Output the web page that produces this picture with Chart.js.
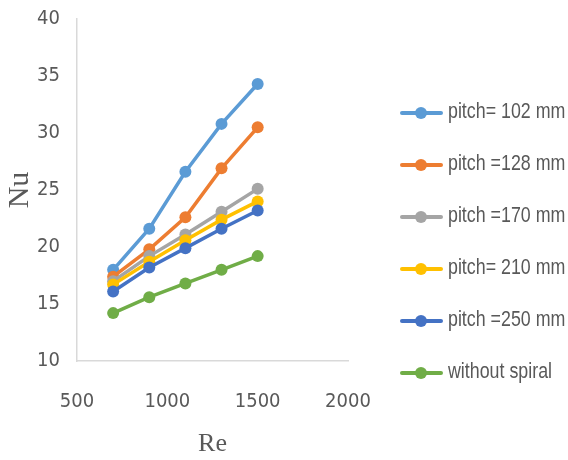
<!DOCTYPE html>
<html>
<head>
<meta charset="utf-8">
<script src="https://cdn.jsdelivr.net/npm/chart.js@4.4.0/dist/chart.umd.min.js"></script>
<style>
  html, body { margin: 0; padding: 0; background: #fff; }
  #wrap { position: relative; width: 568px; height: 460px; }
  #legend { position: absolute; left: 400px; top: 0; }
  .item { position: absolute; left: 0; height: 20px; width: 170px; }
  .item .ln { position: absolute; left: 0; top: 8px; width: 43px; height: 3.5px; border-radius: 2px; }
  .item .dot { position: absolute; left: 15px; top: 4px; width: 12px; height: 12px; border-radius: 50%; }
  .item .txt { position: absolute; left: 48px; top: -5px; font: 22px 'Liberation Sans', Arial, sans-serif; color: #595959; white-space: nowrap; transform: scaleX(0.81); transform-origin: 0 50%; }
</style>
</head>
<body>
<div id="wrap">
  <canvas id="chart" width="568" height="460"></canvas>
  <div id="legend"></div>
</div>
<script>
// --- Data ---
const reynolds = [700, 900, 1100, 1300, 1500];
const pitch102 = [18.0, 21.6, 26.6, 30.8, 34.3];
const pitch128 = [17.4, 19.8, 22.6, 26.9, 30.5];
const pitch170 = [17.0, 19.2, 21.1, 23.1, 25.1];
const pitch210 = [16.7, 18.7, 20.6, 22.4, 24.0];
const pitch250 = [16.1, 18.2, 19.9, 21.6, 23.2];
const withoutSpiral = [14.2, 15.6, 16.8, 18.0, 19.2];

const seriesNames = ['pitch= 102 mm', 'pitch =128 mm', 'pitch =170 mm', 'pitch= 210 mm', 'pitch =250 mm', 'without spiral'];
const seriesValues = [pitch102, pitch128, pitch170, pitch210, pitch250, withoutSpiral];
const seriesColors = ['#5B9BD5', '#ED7D31', '#A5A5A5', '#FFC000', '#4472C4', '#70AD47'];

const xTicks = [500, 1000, 1500, 2000];
const yTicks = [10, 15, 20, 25, 30, 35, 40];

const tickFont = { family: "'DejaVu Sans Condensed', 'Liberation Sans', sans-serif", size: 20 };
const serif = "'Liberation Serif', 'Times New Roman', serif";

// --- Chart ---
const ctx = document.getElementById('chart').getContext('2d');
const chart = new Chart(ctx, {
  type: 'line',
  data: {
    datasets: seriesValues.map((vals, i) => ({
      label: seriesNames[i],
      data: reynolds.map((re, j) => ({ x: re, y: vals[j] })),
      borderColor: seriesColors[i],
      backgroundColor: seriesColors[i],
      borderWidth: 3.5,
      pointRadius: 6,
      pointHoverRadius: 6,
      pointBorderWidth: 0,
      tension: 0,
      order: seriesValues.length - i
    }))
  },
  options: {
    responsive: false,
    animation: false,
    layout: { padding: { top: 19, right: 220, left: 0, bottom: 0 } },
    plugins: { legend: { display: false }, tooltip: { enabled: false } },
    scales: {
      x: {
        type: 'linear',
        min: 500, max: 2000,
        afterBuildTicks: s => { s.ticks = xTicks.map(v => ({ value: v })); },
        afterFit: s => { s.height = 99; s.paddingLeft = 0; s.paddingRight = 0; },
        grid: { display: false, drawTicks: false },
        border: { display: true, color: '#D9D9D9', width: 1.5 },
        ticks: { color: '#595959', font: tickFont, padding: 29, maxRotation: 0, callback: v => String(v) },
        title: { display: true, text: 'Re', color: '#595959', font: { family: serif, size: 26 }, padding: { top: 0, bottom: 0 } }
      },
      y: {
        min: 10, max: 40,
        afterBuildTicks: s => { s.ticks = yTicks.map(v => ({ value: v })); },
        afterFit: s => { s.width = 77; s.paddingTop = 0; s.paddingBottom = 0; },
        grid: { display: false, drawTicks: false },
        border: { display: true, color: '#D9D9D9', width: 1.5 },
        ticks: { color: '#595959', font: tickFont, padding: 17, callback: v => String(v) },
        title: { display: true, text: 'Nu', color: '#595959', font: { family: serif, size: 30 }, padding: 2 }
      }
    }
  }
});

// --- Legend ---
const legend = document.getElementById('legend');
seriesNames.forEach((name, i) => {
  const item = document.createElement('div');
  item.className = 'item';
  item.style.top = (103 + i * 52) + 'px';
  item.innerHTML = `<div class="ln" style="background:${seriesColors[i]}"></div>` +
    `<div class="dot" style="background:${seriesColors[i]}"></div>` +
    `<div class="txt">${name}</div>`;
  legend.append(item);
});
</script>
</body>
</html>
